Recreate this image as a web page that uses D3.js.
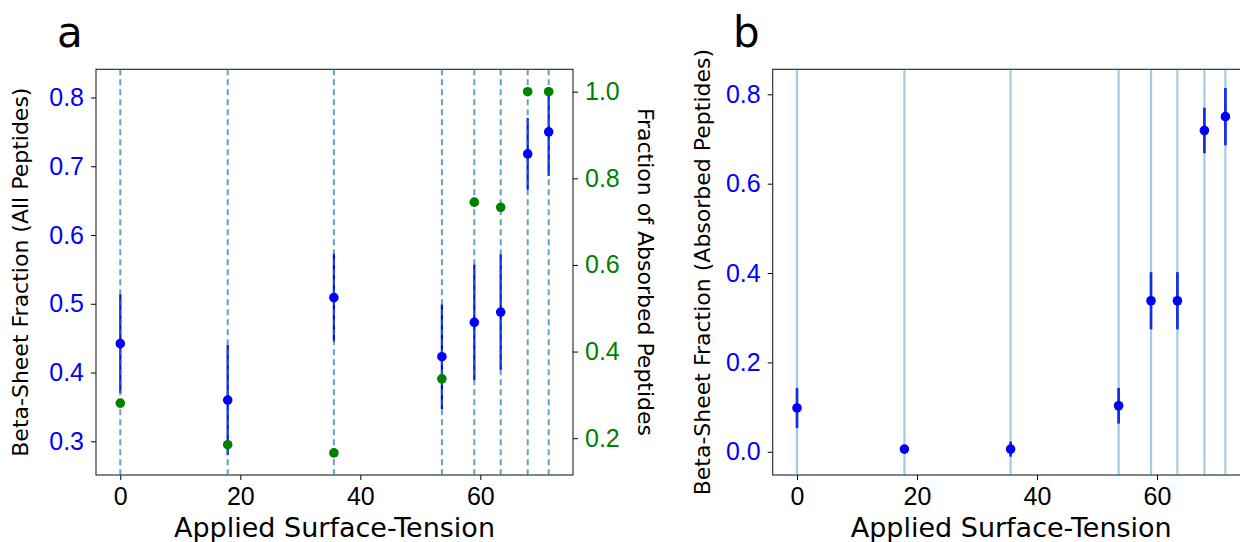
<!DOCTYPE html>
<html>
<head>
<meta charset="utf-8">
<script src="https://cdn.jsdelivr.net/npm/d3@7"></script>
<style>
    body { margin: 0; background: #fff; }
    svg { display: block; font-family: "DejaVu Sans", sans-serif; }
</style>
</head>
<body>
<div id="chart"></div>
<script>

// Data
var tensions        = [0, 17.9, 35.6, 53.6, 59.0, 63.4, 67.9, 71.4];
var betaAll         = [0.442, 0.360, 0.509, 0.423, 0.473, 0.488, 0.718, 0.750];
var betaAllErr      = [0.072, 0.080, 0.064, 0.076, 0.084, 0.084, 0.052, 0.064];
var absorbedFrac    = [0.281, 0.185, 0.166, 0.337, 0.745, 0.733, 1.0, 1.0];
var betaAbsorbed    = [0.098, 0.006, 0.006, 0.103, 0.338, 0.338, 0.719, 0.750];
var betaAbsorbedErr = [0.045, 0.004, 0.017, 0.040, 0.064, 0.064, 0.051, 0.064];

var xTicks      = [0, 20, 40, 60];
var yTicksAll   = [0.3, 0.4, 0.5, 0.6, 0.7, 0.8];
var yTicksFrac  = [0.2, 0.4, 0.6, 0.8, 1.0];
var yTicksAbs   = [0.0, 0.2, 0.4, 0.6, 0.8];

var BLUE = "#0000ff", GREEN = "#008000", LINE = "#1f77b4";

var svg = d3.select("#chart").append("svg")
    .attr("width", 1240)
    .attr("height", 542);


//******************************************************************************
//**  drawPanel
//******************************************************************************
var drawPanel = function(cfg){

    var x = d3.scaleLinear().domain([-4.05, 75.45]).range([cfg.left, cfg.right]);
    var y = d3.scaleLinear().domain(cfg.yDomain).range([cfg.bottom, cfg.top]);

    var g = svg.append("g");

  //axes
    var xAxis = g.append("g")
        .attr("transform", "translate(0," + cfg.bottom + ")")
        .call(d3.axisBottom(x).tickValues(xTicks).tickFormat(d3.format("d"))
            .tickSizeOuter(0).tickSize(5).tickPadding(7.5));
    xAxis.selectAll("text").attr("font-size", "25px").attr("fill", "#000");

    var yAxis = g.append("g")
        .attr("transform", "translate(" + cfg.left + ",0)")
        .call(d3.axisLeft(y).tickValues(cfg.yTicks).tickFormat(d3.format(".1f"))
            .tickSizeOuter(0).tickSize(5).tickPadding(7));
    yAxis.selectAll("text").attr("font-size", "25px").attr("fill", BLUE);

    [xAxis, yAxis].forEach(function(a){
        a.select(".domain").remove();
        a.selectAll("line").attr("stroke", "#000");
    });

  //frame
    g.append("rect")
        .attr("x", cfg.left).attr("y", cfg.top)
        .attr("width", cfg.right - cfg.left).attr("height", cfg.bottom - cfg.top)
        .attr("fill", "none").attr("stroke", "#222").attr("stroke-width", 1.1);

    var marks = g.append("g");

  //error bars
    marks.selectAll(".err")
        .data(tensions)
        .enter().append("line")
        .attr("x1", function(d){ return x(d); })
        .attr("x2", function(d){ return x(d); })
        .attr("y1", function(d, i){ return y(cfg.values[i] - cfg.errors[i]); })
        .attr("y2", function(d, i){ return y(cfg.values[i] + cfg.errors[i]); })
        .attr("stroke", BLUE)
        .attr("stroke-width", cfg.errWidth);

  //vertical lines at each applied tension
    marks.selectAll(".vline")
        .data(tensions)
        .enter().append("line")
        .attr("x1", function(d){ return x(d); })
        .attr("x2", function(d){ return x(d); })
        .attr("y1", cfg.top)
        .attr("y2", cfg.bottom)
        .attr("stroke", LINE)
        .attr("stroke-opacity", cfg.lineOpacity)
        .attr("stroke-width", cfg.lineWidth)
        .attr("stroke-dasharray", cfg.dash);

  //blue points
    marks.selectAll(".pt")
        .data(tensions)
        .enter().append("circle")
        .attr("cx", function(d){ return x(d); })
        .attr("cy", function(d, i){ return y(cfg.values[i]); })
        .attr("r", 4.8)
        .attr("fill", BLUE);

  //y label
    g.append("text")
        .attr("transform", "translate(" + cfg.yLabelX + "," + ((cfg.top + cfg.bottom) / 2) + ") rotate(-90)")
        .attr("text-anchor", "middle")
        .attr("font-size", "22px")
        .text(cfg.yLabel);

  //x label
    g.append("text")
        .attr("x", (cfg.left + cfg.right) / 2)
        .attr("y", 537)
        .attr("text-anchor", "middle")
        .attr("font-size", "27px")
        .text("Applied Surface-Tension");

  //panel letter
    g.append("text")
        .attr("x", cfg.letterX)
        .attr("y", 47)
        .attr("font-size", "42px")
        .text(cfg.letter);

    return {x: x, y: y, g: g};
};


// Panel a
var pa = drawPanel({
    left: 96, right: 573, top: 69.3, bottom: 475,
    yDomain: [0.251, 0.841], yTicks: yTicksAll,
    values: betaAll, errors: betaAllErr,
    errWidth: 2.2, lineWidth: 2, lineOpacity: 0.7, dash: "6,4",
    yLabel: "Beta-Sheet Fraction (All Peptides)", yLabelX: 28,
    letter: "a", letterX: 57
});

// right axis: fraction absorbed
var yFrac = d3.scaleLinear().domain([0.115, 1.0517]).range([475, 69.3]);
var rAxis = pa.g.append("g")
    .attr("transform", "translate(573,0)")
    .call(d3.axisRight(yFrac).tickValues(yTicksFrac).tickFormat(d3.format(".1f"))
        .tickSizeOuter(0).tickSize(5).tickPadding(7));
rAxis.select(".domain").remove();
rAxis.selectAll("line").attr("stroke", "#000");
rAxis.selectAll("text").attr("font-size", "25px").attr("fill", GREEN);

pa.g.selectAll(".frac")
    .data(tensions)
    .enter().append("circle")
    .attr("cx", function(d){ return pa.x(d); })
    .attr("cy", function(d, i){ return yFrac(absorbedFrac[i]); })
    .attr("r", 4.8)
    .attr("fill", GREEN);

pa.g.append("text")
    .attr("transform", "translate(638,272) rotate(90)")
    .attr("text-anchor", "middle")
    .attr("font-size", "22px")
    .text("Fraction of Absorbed Peptides");

// Panel b (right edge falls outside the picture)
drawPanel({
    left: 772.7, right: 1249.7, top: 69.3, bottom: 475,
    yDomain: [-0.052, 0.856], yTicks: yTicksAbs,
    values: betaAbsorbed, errors: betaAbsorbedErr,
    errWidth: 2.6, lineWidth: 2.2, lineOpacity: 0.4, dash: null,
    yLabel: "Beta-Sheet Fraction (Absorbed Peptides)", yLabelX: 710,
    letter: "b", letterX: 733
});

</script>
</body>
</html>
